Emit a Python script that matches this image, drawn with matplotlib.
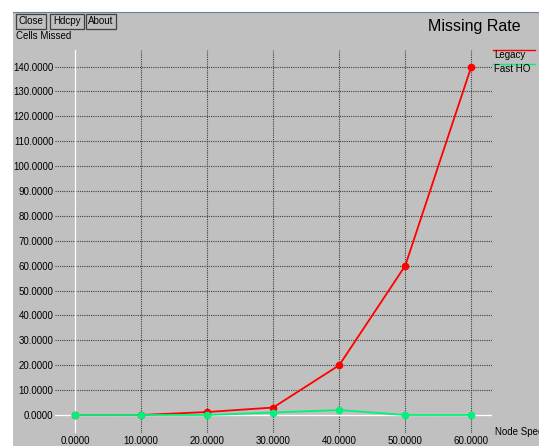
import matplotlib
matplotlib.use("Agg")
import matplotlib.pyplot as plt
from matplotlib.patches import Rectangle
from matplotlib.lines import Line2D

W, H = 539, 446

node_speed = [0, 10, 20, 30, 40, 50, 60]
legacy = [0.0, 0.0, 1.2, 3.0, 20.0, 60.0, 140.0]
fast_ho = [0.0, 0.0, 0.0, 1.0, 2.0, 0.0, 0.0]
y_ticks = list(range(0, 150, 10))
series_names = ["Legacy", "Fast HO"]
buttons = ["Close", "Hdcpy", "About"]

BG = "#c0c0c0"
RED = "#ff0000"
GREEN = "#00f27a"
FONT = "Liberation Sans"
FS = 7.0


def fx(px):
    return px / W


def fy(py):
    return 1 - py / H


fig = plt.figure(figsize=(W / 100, H / 100), dpi=100)
fig.patch.set_facecolor(BG)

# white window edges (top and left)
fig.add_artist(Rectangle((0, fy(12)), 1, 12 / H, transform=fig.transFigure,
                         facecolor="white", edgecolor="none", zorder=-5))
fig.add_artist(Rectangle((0, 0), fx(13), 1, transform=fig.transFigure,
                         facecolor="white", edgecolor="none", zorder=-5))
fig.add_artist(Line2D([fx(13), 1], [fy(12), fy(12)], transform=fig.transFigure,
                      color="#6a7f9a", lw=0.8))

# buttons
btn_x = [(15.5, 45.5), (49.5, 83.5), (85.5, 115.5)]
for name, (x0, x1) in zip(buttons, btn_x):
    fig.add_artist(Rectangle((fx(x0), fy(28.5)), fx(x1 - x0), (28.5 - 13.5) / H,
                             transform=fig.transFigure, facecolor=BG,
                             edgecolor="#404040", lw=0.9))
    fig.text(fx((x0 + x1) / 2), fy(21), name, ha="center", va="center",
             fontsize=FS, family=FONT, color="black")

fig.text(fx(16), fy(36), "Cells Missed", ha="left", va="center",
         fontsize=FS, family=FONT)
fig.text(fx(428), fy(27), "Missing Rate", ha="left", va="center",
         fontsize=11.5, family=FONT)
fig.text(fx(495), fy(432), "Node Speed", ha="left", va="center",
         fontsize=FS, family=FONT)

# plot area (pixels): x 55..492, y 50..433
ax = fig.add_axes([fx(55), fy(433), fx(492 - 55), (433 - 50) / H])
ax.set_facecolor(BG)
x_per = (471.3 - 75) / 60
y_per = (415 - 66.6) / 140
ax.set_xlim(-(75 - 55) / x_per, (492 - 75) / x_per)
ax.set_ylim(-(433 - 415) / y_per, (415 - 50) / y_per)
for s in ax.spines.values():
    s.set_visible(False)

ax.set_xticks(node_speed)
ax.set_yticks(y_ticks)
ax.set_xticklabels([f"{v:.4f}" for v in node_speed], family=FONT, fontsize=FS)
ax.set_yticklabels([f"{v:.4f}" for v in y_ticks], family=FONT, fontsize=FS)
ax.tick_params(length=0, pad=1)
ax.tick_params(axis="x", pad=2)
ax.grid(True, color="#404040", ls=(0, (1, 1)), lw=0.8)
ax.axhline(0, color="white", lw=1.0, zorder=2)
ax.axvline(0, color="white", lw=1.0, zorder=2)

ax.plot(node_speed, legacy, color=RED, lw=1.3, marker="o", ms=4.5, zorder=3)
ax.plot(node_speed, fast_ho, color=GREEN, lw=1.3, marker="o", ms=4.5, zorder=4)

# legend
for name, col, ly in zip(series_names, [RED, GREEN], [50, 64]):
    fig.add_artist(Line2D([fx(493), fx(535)], [fy(ly), fy(ly)], transform=fig.transFigure,
                          color=col, lw=1.0))
    fig.text(fx(494), fy(ly + 5), name, ha="left", va="center",
             fontsize=FS, family=FONT)

fig.savefig("out.png", dpi=100, facecolor=fig.get_facecolor())
